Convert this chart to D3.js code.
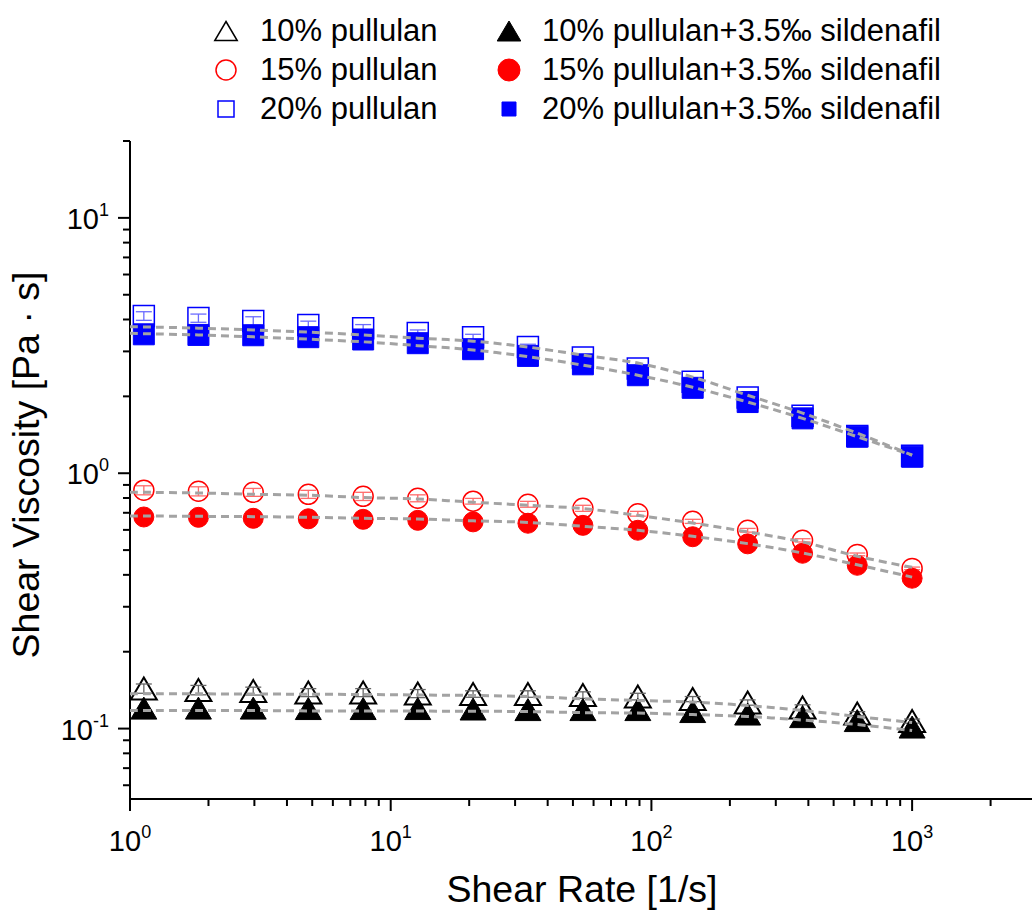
<!doctype html>
<html lang="en">
<head>
<meta charset="utf-8">
<title>Shear viscosity</title>
<style>
    body { margin: 0; background: #fff; }
    svg text { font-family: "Liberation Sans", Arial, sans-serif; fill: #000; }
</style>
</head>
<body>
<svg id="chart" width="1032" height="911"></svg>

<script src="https://cdn.jsdelivr.net/npm/d3@7/dist/d3.min.js"></script>
<script>

    // shear rate points (1/s)
    const shearRate = [1.13, 1.83, 2.97, 4.83, 7.84, 12.7, 20.7, 33.6, 54.6, 88.7, 144, 234, 380, 616, 1000];
    // fitted curves start at the axis
    const fitRate = [1, 1.13, 1.83, 2.97, 4.83, 7.84, 12.7, 20.7, 33.6, 54.6, 88.7, 144, 234, 380, 616, 1000];

    // measured viscosity (Pa s)
    const visc10  = [0.1435, 0.1416, 0.1403, 0.1384, 0.1384, 0.1372, 0.1366, 0.1366, 0.1353, 0.1335, 0.1305, 0.1265, 0.1209, 0.1145, 0.1070];
    const visc10S = [0.1203, 0.1203, 0.1203, 0.1198, 0.1198, 0.1198, 0.1193, 0.1187, 0.1187, 0.1187, 0.1166, 0.1140, 0.1114, 0.1075, 0.1014];
    const visc15  = [0.858, 0.850, 0.842, 0.827, 0.812, 0.798, 0.777, 0.756, 0.729, 0.694, 0.648, 0.598, 0.546, 0.481, 0.424];
    const visc15S = [0.674, 0.672, 0.666, 0.663, 0.660, 0.654, 0.645, 0.637, 0.625, 0.598, 0.564, 0.529, 0.486, 0.436, 0.388];
    const visc20  = [4.13, 4.05, 3.95, 3.81, 3.70, 3.54, 3.41, 3.12, 2.84, 2.57, 2.28, 1.98, 1.68, 1.40, 1.17];
    const visc20S = [3.50, 3.48, 3.47, 3.41, 3.34, 3.23, 3.06, 2.88, 2.67, 2.42, 2.16, 1.90, 1.64, 1.39, 1.16];

    // standard deviations of the plain pullulan samples
    const err10 = [0.006, 0.006, 0.005, 0.005, 0.005, 0.005, 0.004, 0.004, 0.004, 0.004, 0.003, 0.003, 0.003, 0.002, 0.002];
    const err15 = [0.035, 0.035, 0.03, 0.03, 0.03, 0.025, 0.02, 0.02, 0.02, 0.015, 0.012, 0.01, 0.008, 0.006, 0.005];
    const err20 = [0.16, 0.15, 0.15, 0.13, 0.12, 0.10, 0.09, 0.08, 0.07, 0.06, 0.05, 0.04, 0.03, 0.02, 0.01];

    // fitted model curves (dashed)
    const fit10  = [0.1368, 0.1368, 0.1368, 0.1366, 0.1363, 0.1360, 0.1354, 0.1348, 0.1336, 0.1308, 0.1288, 0.1270, 0.1231, 0.1177, 0.1115, 0.1056];
    const fit10S = [0.1177, 0.1177, 0.1177, 0.1177, 0.1173, 0.1173, 0.1171, 0.1169, 0.1166, 0.1155, 0.1150, 0.1135, 0.1115, 0.1080, 0.1037, 0.0982];
    const fit15  = [0.842, 0.842, 0.837, 0.827, 0.820, 0.803, 0.793, 0.770, 0.749, 0.727, 0.684, 0.638, 0.589, 0.538, 0.473, 0.428];
    const fit15S = [0.680, 0.680, 0.678, 0.676, 0.672, 0.666, 0.662, 0.651, 0.642, 0.620, 0.598, 0.566, 0.530, 0.487, 0.438, 0.392];
    const fit20  = [3.75, 3.74, 3.70, 3.64, 3.57, 3.48, 3.38, 3.29, 3.12, 2.90, 2.70, 2.38, 2.02, 1.72, 1.435, 1.177];
    const fit20S = [3.53, 3.52, 3.48, 3.42, 3.35, 3.27, 3.16, 3.04, 2.86, 2.65, 2.42, 2.17, 1.90, 1.64, 1.39, 1.177];

    const legendLabels = ["10% pullulan", "15% pullulan", "20% pullulan",
        "10% pullulan+3.5\u2030 sildenafil", "15% pullulan+3.5\u2030 sildenafil", "20% pullulan+3.5\u2030 sildenafil"];
    const xMajor = [1, 10, 100, 1000];
    const xMajorExp = ["0", "1", "2", "3"];
    const yMajor = [0.1, 1, 10];
    const yMajorExp = ["-1", "0", "1"];

    let series = [
        {name: legendLabels[0], x: shearRate, y: visc10, err: err10, shape: "tri", color: "#000", open: true},
        {name: legendLabels[1], x: shearRate, y: visc15, err: err15, shape: "circle", color: "#ff0000", open: true},
        {name: legendLabels[2], x: shearRate, y: visc20, err: err20, shape: "square", color: "#0000ff", open: true},
        {name: legendLabels[3], x: shearRate, y: visc10S, shape: "tri", color: "#000", open: false},
        {name: legendLabels[4], x: shearRate, y: visc15S, shape: "circle", color: "#ff0000", open: false},
        {name: legendLabels[5], x: shearRate, y: visc20S, shape: "square", color: "#0000ff", open: false}
    ];
    let fits = [fit10, fit10S, fit15, fit15S, fit20, fit20S];

    let svg = d3.select("#chart");

    let xScale = d3.scaleLog().domain([1, 3000]).range([130, 1036.5]);
    let yScale = d3.scaleLog().domain([0.053, 20]).range([799, 141]);

    // marker path generators, centred on the box
    function markerPath(shape, s) {
        if (shape === "tri") {
            let w = s * 1.18, h = s;
            return "M0," + (-h / 2) + "L" + (w / 2) + "," + (h / 2) + "L" + (-w / 2) + "," + (h / 2) + "Z";
        }
        if (shape === "circle") {
            return d3.symbol().type(d3.symbolCircle).size(Math.PI * s * s / 4)();
        }
        return "M" + (-s / 2) + "," + (-s / 2) + "h" + s + "v" + s + "h" + (-s) + "Z";
    }
    let markerSize = {tri: 22, circle: 20, square: 21};
    let lightColor = {"#000": "#666", "#ff0000": "#ff6b6b", "#0000ff": "#6b6bff"};

    // axes
    let axes = svg.append("g").attr("class", "axes");
    axes.append("line")
        .attr("x1", 130).attr("x2", 1036).attr("y1", 799).attr("y2", 799)
        .attr("stroke", "#000").attr("stroke-width", 2);
    axes.append("line")
        .attr("x1", 130).attr("x2", 130).attr("y1", yScale(20)).attr("y2", 799)
        .attr("stroke", "#000").attr("stroke-width", 2);

    axes.selectAll("line.xt")
        .data(xScale.ticks()).enter()
        .append("line").attr("class", "xt")
        .attr("x1", d => xScale(d)).attr("x2", d => xScale(d))
        .attr("y1", 799)
        .attr("y2", d => 799 + (xMajor.indexOf(d) >= 0 ? 12 : 7))
        .attr("stroke", "#000").attr("stroke-width", 2);

    axes.selectAll("line.yt")
        .data(yScale.ticks()).enter()
        .append("line").attr("class", "yt")
        .attr("y1", d => yScale(d)).attr("y2", d => yScale(d))
        .attr("x1", 130)
        .attr("x2", d => 130 - (yMajor.some(m => Math.abs(m - d) < 1e-9) ? 12 : 7))
        .attr("stroke", "#000").attr("stroke-width", 2);

    // tick labels 10^n
    let xl = axes.selectAll("text.xl")
        .data(xMajor).enter()
        .append("text").attr("class", "xl")
        .attr("x", d => xScale(d)).attr("y", 851)
        .attr("text-anchor", "middle")
        .style("font-size", "29px");
    xl.append("tspan").text("10");
    xl.append("tspan").attr("dy", -13).style("font-size", "18px").text((d, i) => xMajorExp[i]);

    let yl = axes.selectAll("text.yl")
        .data(yMajor).enter()
        .append("text").attr("class", "yl")
        .attr("x", 109).attr("y", d => yScale(d) + 11)
        .attr("text-anchor", "end")
        .style("font-size", "29px");
    yl.append("tspan").text("10");
    yl.append("tspan").attr("dy", -13).style("font-size", "18px").text((d, i) => yMajorExp[i]);

    // axis titles
    svg.append("text")
        .attr("x", 582).attr("y", 902)
        .attr("text-anchor", "middle")
        .style("font-size", "37.5px")
        .text("Shear Rate [1/s]");
    svg.append("text")
        .attr("transform", "translate(39,465) rotate(-90)")
        .attr("text-anchor", "middle")
        .style("font-size", "37.5px")
        .text("Shear Viscosity [Pa \u00b7 s]");

    // markers: open ones first, filled ones over them
    let plot = svg.append("g").attr("class", "plot");
    series.forEach(function (s) {
        let g = plot.append("g");
        let pts = s.x.map((x, i) => ({x: x, y: s.y[i], e: s.err ? s.err[i] : 0}));
        let sz = markerSize[s.shape];
        g.selectAll("path")
            .data(pts).enter()
            .append("path")
            .attr("transform", d => "translate(" + xScale(d.x) + "," + yScale(d.y) + ")")
            .attr("d", markerPath(s.shape, sz))
            .attr("fill", s.open ? "none" : s.color)
            .attr("stroke", s.color)
            .attr("stroke-width", s.open ? (s.shape === "tri" ? 2 : 1.5) : 1);
        if (s.open) {
            let eb = g.selectAll("g.eb").data(pts).enter().append("g").attr("class", "eb")
                .attr("stroke", lightColor[s.color]).attr("stroke-width", 1.3);
            eb.append("line")
                .attr("x1", d => xScale(d.x)).attr("x2", d => xScale(d.x))
                .attr("y1", d => yScale(d.y + d.e)).attr("y2", d => yScale(d.y - d.e));
            eb.append("line")
                .attr("x1", d => xScale(d.x) - 8).attr("x2", d => xScale(d.x) + 8)
                .attr("y1", d => yScale(d.y + d.e)).attr("y2", d => yScale(d.y + d.e));
            eb.append("line")
                .attr("x1", d => xScale(d.x) - 8).attr("x2", d => xScale(d.x) + 8)
                .attr("y1", d => yScale(d.y - d.e)).attr("y2", d => yScale(d.y - d.e));
        }
    });

    // dashed fits drawn on top
    let line = d3.line()
        .x((d, i) => xScale(fitRate[i]))
        .y(d => yScale(d))
        .curve(d3.curveCatmullRom.alpha(0.5));
    plot.selectAll("path.fit")
        .data(fits).enter()
        .append("path").attr("class", "fit")
        .attr("d", line)
        .attr("fill", "none")
        .attr("stroke", "#a3a3a3")
        .attr("stroke-width", 3)
        .attr("stroke-dasharray", "8,5");

    // legend
    let legend = svg.append("g").attr("class", "legend");
    let legendSize = {
        open: {tri: 19, circle: 20, square: 16},
        filled: {tri: 20, circle: 22, square: 14}
    };
    series.forEach(function (s, i) {
        let col = Math.floor(i / 3), row = i % 3;
        let sx = col === 0 ? 226 : 509;
        let base = 41 + row * 39;
        let sz = legendSize[s.open ? "open" : "filled"][s.shape];
        legend.append("path")
            .attr("transform", "translate(" + sx + "," + (base - 10) + ")")
            .attr("d", markerPath(s.shape, sz))
            .attr("fill", s.open ? "none" : s.color)
            .attr("stroke", s.color)
            .attr("stroke-width", s.open ? 1.5 : 1);
        legend.append("text")
            .attr("x", col === 0 ? 260 : 542)
            .attr("y", base)
            .style("font-size", "31px")
            .text(s.name);
    });

</script>
</body>
</html>
